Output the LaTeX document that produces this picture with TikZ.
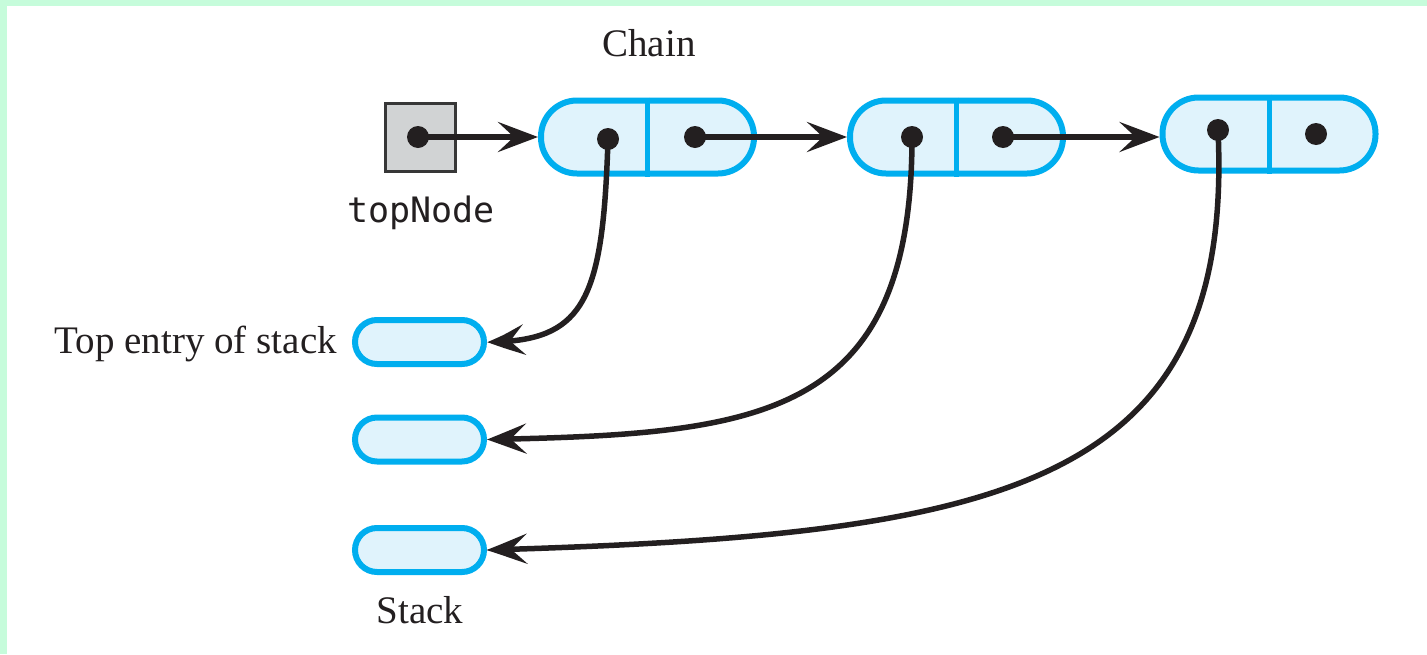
\documentclass[tikz,border=0pt]{standalone}
\usepackage{fontspec}
\setmainfont{Liberation Serif}
\setmonofont{DejaVu Sans Mono}
\usetikzlibrary{arrows.meta,bending}
\definecolor{mint}{RGB}{198,252,219}
\definecolor{cellblue}{RGB}{0,174,239}
\definecolor{cellfill}{RGB}{224,243,252}
\definecolor{boxgray}{RGB}{209,211,212}
\definecolor{boxedge}{RGB}{55,55,55}
\definecolor{ink}{RGB}{35,31,32}
\tikzset{
  chaincell/.style={draw=cellblue, fill=cellfill, line width=6pt, rounded corners=36pt,
    minimum width=213pt, minimum height=73pt, inner sep=0pt},
  stackcell/.style={draw=cellblue, fill=cellfill, line width=6pt, rounded corners=22pt,
    minimum width=129pt, minimum height=44pt, inner sep=0pt},
  refbox/.style={draw=boxedge, fill=boxgray, line width=3pt,
    minimum width=70pt, minimum height=68pt, inner sep=0pt},
  divider/.style={draw=cellblue, line width=5pt},
  link/.style={draw=ink, line width=5.5pt, -{Stealth[length=40pt,width=30pt,inset=16pt,bend]}},
  dot/.style={fill=ink},
  lbl/.style={font=\fontsize{39}{42}\selectfont, text=ink, inner sep=0pt},
  monolbl/.style={font=\ttfamily\fontsize{35}{38}\selectfont, text=ink, inner sep=0pt},
}
\begin{document}
\begin{tikzpicture}[x=1pt, y=-1pt]
  % frame
  \fill[mint] (0,0) rectangle (1427,654);
  \fill[white] (7,6) rectangle (1427,654);
  \useasboundingbox (0,0) rectangle (1427,654);

  % reference variable
  \node[refbox] (top) at (420.5,137.5) {};
  \node[monolbl, anchor=base] (toplbl) at (421,222) {topNode};

  % chain of nodes
  \node[chaincell] (n1) at (647.5,137) {};
  \node[chaincell] (n2) at (956.5,137) {};
  \node[chaincell] (n3) at (1269,134) {};
  \node[lbl, anchor=base] (chainlbl) at (649,56) {Chain};
  \foreach \n in {n1,n2,n3} \draw[divider] (\n.north) -- (\n.south);

  % stack entries
  \node[stackcell] (s1) at (419.5,342) {};
  \node[stackcell] (s2) at (419.5,439.5) {};
  \node[stackcell] (s3) at (419.5,550) {};
  \node[lbl, anchor=base east] (toplabel) at (337,353) {Top entry of stack};
  \node[lbl, anchor=base] (stacklbl) at (420,623) {Stack};

  % pointer positions
  \coordinate (tp) at (418,137);
  \coordinate (d1) at (608,139);
  \coordinate (p1) at (695,137);
  \coordinate (d2) at (912,137);
  \coordinate (p2) at (1003,137);
  \coordinate (d3) at (1218,130);
  \coordinate (p3) at (1316,134);

  % next links
  \draw[link] (tp) -- (tp -| n1.west);
  \draw[link] (p1) -- (p1 -| n2.west);
  \draw[link] (p2) -- (p2 -| n3.west);

  % data links
  \draw[link] (d1) .. controls (603,300) and (585,342) .. (s1.east);
  \draw[link] (d2) .. controls (912,420) and (760,434) .. (s2.east);
  \draw[link] (d3) .. controls (1235,490) and (1000,535) .. (s3.east);

  % dots
  \foreach \c in {tp,d1,p1,d2,p2,d3,p3} \fill[dot] (\c) circle (11pt);
\end{tikzpicture}
\end{document}
